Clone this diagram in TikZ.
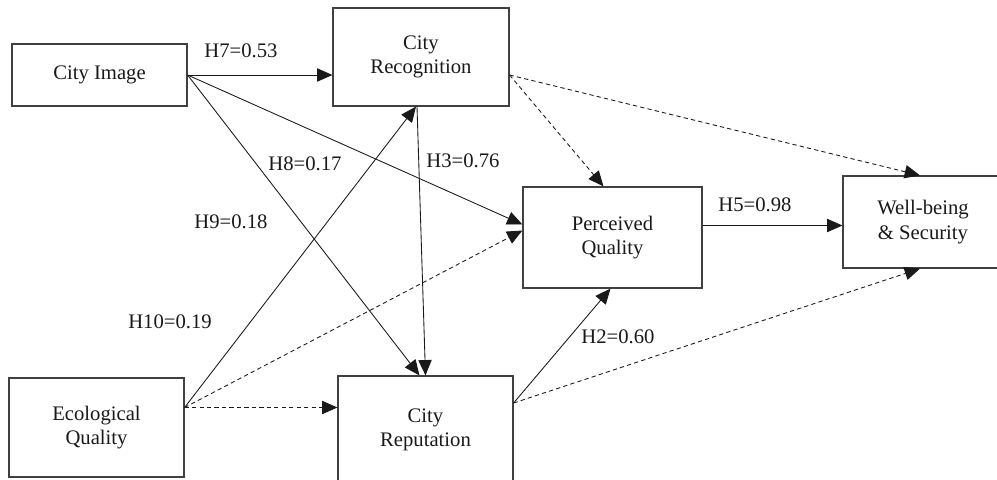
\documentclass[tikz,border=0pt]{standalone}
\usepackage{fontspec}
\setmainfont{Liberation Serif}
\usetikzlibrary{arrows.meta,calc}
\begin{document}
\begin{tikzpicture}[x=0.75pt,y=-0.75pt,
  box/.style={draw=black!75,line width=0.9pt,inner sep=0pt,align=center,font=\fontsize{15.5}{18.5}\selectfont,text=black!90},
  lbl/.style={inner sep=0pt,font=\fontsize{15.5}{18}\selectfont,text=black!90},
  arr/.style={draw=black!90,line width=0.65pt,-{Triangle[length=11.5pt,width=10pt]}},
  darr/.style={arr,dash pattern=on 3.2pt off 2.4pt}]
\useasboundingbox (0,0) rectangle (997,479);
\begin{scope}
\clip (0,0) rectangle (997,479);
\node[box,minimum width={175*0.75pt},minimum height={62*0.75pt}] (ci) at (99.5,75) {City Image};
\node[box,minimum width={176*0.75pt},minimum height={98*0.75pt}] (crec) at (421,57) {City\\Recognition};
\node[box,minimum width={179*0.75pt},minimum height={101*0.75pt}] (pq) at (612.5,237.5) {Perceived\\Quality};
\node[box,minimum width={160*0.75pt},minimum height={92*0.75pt}] (wb) at (923,222) {Well-being\\\&~Security};
\node[box,minimum width={175*0.75pt},minimum height={99*0.75pt}] (eq) at (96.5,427.5) {Ecological\\Quality};
\node[box,minimum width={175*0.75pt},minimum height={108*0.75pt}] (crep) at (425.5,430) {City\\Reputation};
\end{scope}
\coordinate (eqo) at ($(eq.east)+(0,-20)$);
\coordinate (crecO) at ($(crec.east)+(0,18)$);
\coordinate (crepO) at ($(crep.east)+(0,-27)$);
\coordinate (pqO) at ($(pq.east)+(0,-12)$);
% solid
\draw[arr] (ci.east) -- (ci.east -| crec.west);
\draw[arr] (ci.east) -- ($(pq.west)+(0,-13)$);
\draw[arr] (ci.east) -- ($(crep.north)+(-6,0)$);
\draw[arr] (eqo) -- ($(crec.south)+(-5,0)$);
\draw[arr] ($(crec.south)+(-4,0)$) -- ($(crep.north)+(0,0)$);
\draw[arr] (pqO) -- (pqO -| wb.west);
\draw[arr] (crepO) -- ($(pq.south)+(-2,0)$);
% dashed
\draw[darr] (eqo) -- ($(pq.west)+(0,-7)$);
\draw[darr] (eqo) -- (eqo -| crep.west);
\draw[darr] (crecO) -- ($(pq.north)+(-9,0)$);
\draw[darr] (crecO) -- ($(wb.north)+(-3,0)$);
\draw[darr] (crepO) -- ($(wb.south)+(-3,0)$);
% labels
\node[lbl] (h7) at (241,51) {H7=0.53};
\node[lbl] (h8) at (305,164) {H8=0.17};
\node[lbl] (h3) at (463,161) {H3=0.76};
\node[lbl] (h9) at (231,222) {H9=0.18};
\node[lbl] (h10) at (170,322) {H10=0.19};
\node[lbl] (h5) at (755,205) {H5=0.98};
\node[lbl] (h2) at (618,337) {H2=0.60};
\end{tikzpicture}
\end{document}
